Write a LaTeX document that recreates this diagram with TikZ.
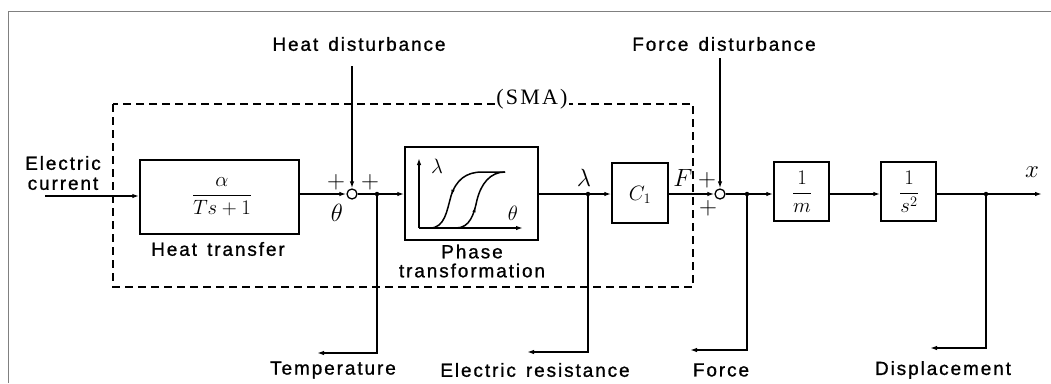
\documentclass[tikz,border=0pt]{standalone}
\usepackage{amsmath}
\usepackage{fontspec}
\usetikzlibrary{arrows.meta,decorations.markings}
\newfontfamily\labfont[LetterSpace=10,WordSpace=1.4,FakeBold=1]{Liberation Sans}
\newfontfamily\serfont[LetterSpace=10]{Liberation Serif}
\begin{document}
\begin{tikzpicture}[x=1pt,y=-1pt,line width=1.4pt,
  arr/.style={-{Latex[length=7pt,width=4.5pt]}},
  box/.style={draw,line width=1.5pt,inner sep=0pt},
  lbl/.style={font=\labfont\fontsize{19}{20}\selectfont,inner sep=0pt},
  mth/.style={font=\huge,inner sep=0pt},
  lmth/.style={font=\Huge,inner sep=0pt},
  pls/.style={font=\Huge,inner sep=0pt},
  smth/.style={font=\huge,inner sep=0pt},
  sum/.style={circle,draw,fill=white,minimum size=10pt,inner sep=0pt,line width=1.3pt},
  dot/.style={circle,fill=black,minimum size=4.5pt,inner sep=0pt},
  smabox/.style={dash pattern=on 8pt off 5pt,line width=1.4pt},
  midarr/.style={postaction={decorate},decoration={markings,mark=at position #1 with {\arrow{Latex[length=5pt,width=3.5pt]}}}},
  midarrrev/.style={postaction={decorate},decoration={markings,mark=at position #1 with {\arrowreversed{Latex[length=5pt,width=3.5pt]}}}}]
\useasboundingbox (0,0) rectangle (1051,383);
% frame
\draw[gray,line width=1pt] (8,383) -- (8,11) -- (1051,11);
% SMA dashed box
\draw[smabox] (113,104) rectangle (693,287);
\node[font=\serfont\fontsize{22}{24}\selectfont,fill=white,inner sep=1pt] (sma) at (532,99) {(SMA)};
% blocks
\node[box,minimum width=159pt,minimum height=74pt] (heat) at (219.5,197) {};
\node[mth] (heatf) at (222,197) {$\dfrac{\alpha}{Ts+1}$};
\node[box,minimum width=133pt,minimum height=93pt] (phase) at (471.5,193.5) {};
\node[box,minimum width=56pt,minimum height=60pt] (c1) at (640,193) {};
\node[mth] (c1t) at (640,195) {$C_1$};
\node[box,minimum width=55pt,minimum height=59pt] (m) at (801.5,191.5) {};
\node[mth] (mt) at (802,192) {$\dfrac{1}{m}$};
\node[box,minimum width=55pt,minimum height=59pt] (s2box) at (908.5,191.5) {};
\node[mth] (s2t) at (909,192) {$\dfrac{1}{s^2}$};
% hysteresis inside phase block
\coordinate (org) at (419,228);
\coordinate (ytop) at (419,158);
\coordinate (xright) at (523,228);
\draw[arr] (org) -- (ytop);
\draw[arr] (org) -- (xright);
\node[smth] (lam2) at (437,166) {$\lambda$};
\node[smth] (th2) at (513,213) {$\theta$};
\draw[line width=1.5pt,midarrrev=0.4] (430,228) .. controls (445,228) and (447,210) .. (451,196) .. controls (456,180) and (466,172) .. (482,172) -- (505,172);
\draw[line width=1.5pt,midarr=0.38] (456,228) .. controls (470,228) and (474,214) .. (477,200) .. controls (481,184) and (490,172) .. (505,172);
% junctions and coordinates
\node[sum] (s1) at (352,194) {};
\node[sum] (s2) at (720,194) {};
\coordinate (ecin) at (45,196);
\coordinate (hdtop) at (352,66);
\coordinate (fdtop) at (720,58);
\coordinate (dot1) at (377,194);
\coordinate (dot2) at (588,194);
\coordinate (dot3) at (747,194);
\coordinate (dot4) at (986,194);
\coordinate (tempend) at (317,353);
\coordinate (erend) at (527,352);
\coordinate (forceend) at (690,350);
\coordinate (dispend) at (930,348);
\coordinate (xend) at (1042,194);
% connectors
\draw[arr] (ecin) -- (heat.west |- ecin);
\draw[arr] (heat.east |- s1) -- (s1);
\draw[arr] (hdtop) -- (s1);
\draw (s1) -- (dot1);
\draw[arr] (dot1) -- (phase.west |- dot1);
\draw[arr] (dot1) |- (tempend);
\draw (phase.east |- dot2) -- (dot2);
\draw[arr] (dot2) -- (c1.west |- dot2);
\draw[arr] (dot2) |- (erend);
\draw[arr] (c1.east |- s2) -- (s2);
\draw[arr] (fdtop) -- (s2);
\draw (s2) -- (dot3);
\draw[arr] (dot3) -- (m.west |- dot3);
\draw[arr] (dot3) |- (forceend);
\draw[arr] (m.east |- dot3) -- (s2box.west |- dot3);
\draw (s2box.east |- dot4) -- (dot4);
\draw[arr] (dot4) -- (xend);
\draw[arr] (dot4) |- (dispend);
% branch dots
\foreach \d in {dot1,dot2,dot3,dot4} \node[dot] at (\d) {};
% signal labels
\node[pls] (p1) at (336,182) {$+$};
\node[pls] (p2) at (370,182) {$+$};
\node[lmth] (th1) at (337,213) {$\theta$};
\node[lmth] (lam1) at (584,178) {$\lambda$};
\node[lmth] (fl) at (683,178) {$F$};
\node[pls] (p3) at (707,180) {$+$};
\node[pls] (p4) at (708,208) {$+$};
\node[lmth] (xl) at (1032,172) {$x$};
% text labels
\node[lbl] (hdl) at (359,44) {Heat disturbance};
\node[lbl] (fdl) at (724,44) {Force disturbance};
\node[lbl,align=center] (ecl) at (63,173) {Electric\\current};
\node[lbl] (htl) at (218,249) {Heat transfer};
\node[lbl,align=center,font=\labfont\fontsize{19}{19}\selectfont] (ptl) at (472,261) {Phase\\transformation};
\node[lbl] (tl) at (333,370) {Temperature};
\node[lbl] (erl) at (535,370) {Electric resistance};
\node[lbl] (fl2) at (721,370) {Force};
\node[lbl] (dl) at (943,370) {Displacement};
\end{tikzpicture}
\end{document}
